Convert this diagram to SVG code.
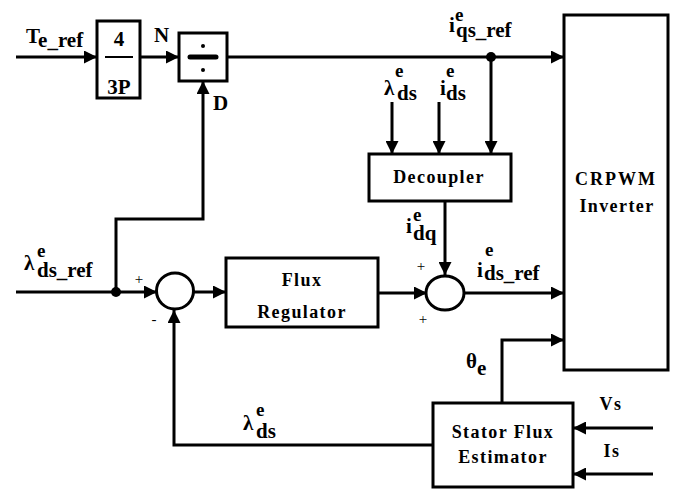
<svg xmlns="http://www.w3.org/2000/svg" width="678" height="489" viewBox="0 0 678 489">
<style>
  .blk { fill: #fff; stroke: #000; stroke-width: 3; }
  .ln { fill: none; stroke: #000; stroke-width: 3; }
  text { font-family: "Liberation Serif", "Times New Roman", serif; font-weight: bold; fill: #000; }
  .lbl { font-size: 21px; }
  .sub { font-size: 21px; }
  .sup { font-size: 19px; }
  .box { font-size: 18px; letter-spacing: 1.4px; text-anchor: middle; }
  .sg { font-size: 15px; font-weight: normal; text-anchor: middle; }
</style>
<defs>
  <marker id="ah" viewBox="0 0 12 12" refX="12" refY="6" markerWidth="13" markerHeight="13" markerUnits="userSpaceOnUse" orient="auto">
    <path d="M0,0 L12,6 L0,12 z" fill="#000"/>
  </marker>
</defs>
<rect width="678" height="489" fill="#fff"/>

<g id="connectors">
  <path class="ln" d="M16,57 H97" marker-end="url(#ah)"/>
  <path class="ln" d="M140,57 H179" marker-end="url(#ah)"/>
  <path class="ln" d="M227,57 H564" marker-end="url(#ah)"/>
  <circle cx="491" cy="57" r="5" fill="#000"/>
  <path class="ln" d="M491,57 V154" marker-end="url(#ah)"/>
  <path class="ln" d="M392,102 V154" marker-end="url(#ah)"/>
  <path class="ln" d="M439,102 V154" marker-end="url(#ah)"/>
  <path class="ln" d="M445,201 V275" marker-end="url(#ah)"/>
  <path class="ln" d="M16,292 H157" marker-end="url(#ah)"/>
  <circle cx="116" cy="292" r="5" fill="#000"/>
  <path class="ln" d="M116,292 V219 H203 V81" marker-end="url(#ah)"/>
  <path class="ln" d="M193,292 H226" marker-end="url(#ah)"/>
  <path class="ln" d="M378,293 H427" marker-end="url(#ah)"/>
  <path class="ln" d="M463,293 H564" marker-end="url(#ah)"/>
  <path class="ln" d="M433,445 H174 V310" marker-end="url(#ah)"/>
  <path class="ln" d="M502,403 V340 H564" marker-end="url(#ah)"/>
  <path class="ln" d="M653,428 H573" marker-end="url(#ah)"/>
  <path class="ln" d="M653,474 H573" marker-end="url(#ah)"/>
</g>

<g id="gain">
  <rect class="blk" x="97" y="21" width="43" height="77"/>
  <text x="119" y="46" font-size="21" text-anchor="middle">4</text>
  <line x1="105" y1="57" x2="133" y2="57" stroke="#000" stroke-width="2"/>
  <text x="119" y="94" font-size="21" text-anchor="middle">3P</text>
</g>

<g id="divider">
  <rect class="blk" x="179" y="33" width="48" height="48"/>
  <circle cx="203" cy="46" r="2" fill="#000"/>
  <line x1="190" y1="57" x2="216" y2="57" stroke="#000" stroke-width="5" stroke-linecap="round"/>
  <circle cx="203" cy="70" r="2" fill="#000"/>
</g>

<g id="sum1">
  <ellipse class="blk" cx="175" cy="291" rx="18.5" ry="18"/>
</g>

<g id="flux-regulator">
  <rect class="blk" x="226" y="258" width="152" height="69"/>
  <text class="box" x="302" y="286">Flux</text>
  <text class="box" x="302" y="318">Regulator</text>
</g>

<g id="decoupler">
  <rect class="blk" x="369" y="154" width="142" height="47"/>
  <text class="box" x="439" y="183">Decoupler</text>
</g>

<g id="sum2">
  <ellipse class="blk" cx="445" cy="293" rx="19" ry="17"/>
</g>

<g id="inverter">
  <rect class="blk" x="564" y="15" width="104" height="355"/>
  <text class="box" x="616" y="185" style="letter-spacing:2px">CRPWM</text>
  <text class="box" x="617" y="212">Inverter</text>
</g>

<g id="stator-flux-estimator">
  <rect class="blk" x="433" y="403" width="140" height="84"/>
  <text class="box" x="503" y="438">Stator Flux</text>
  <text class="box" x="503" y="463">Estimator</text>
</g>

<g id="labels">
  <text class="lbl" x="26" y="43">T<tspan class="sub" dy="4">e_ref</tspan></text>
  <text class="lbl" x="154" y="42">N</text>
  <text class="lbl" x="213" y="110">D</text>
  <text class="lbl" x="449" y="32">i</text><text class="sup" x="455" y="21">e</text><text class="sub" x="456" y="37">qs_ref</text>
  <text class="lbl" x="384" y="95" font-size="22">λ</text><text class="sup" x="395" y="77">e</text><text class="sub" x="397" y="100">ds</text>
  <text class="lbl" x="440" y="95">i</text><text class="sup" x="446" y="77">e</text><text class="sub" x="446" y="100">ds</text>
  <text class="lbl" x="406" y="233">i</text><text class="sup" x="413" y="221">e</text><text class="sub" x="413" y="240">dq</text>
  <text class="lbl" x="477" y="277">i</text><text class="sup" x="485" y="256">e</text><text class="sub" x="484" y="280">ds_ref</text>
  <text class="lbl" x="24" y="270" font-size="22">λ</text><text class="sup" x="37" y="257">e</text><text class="sub" x="37" y="277">ds_ref</text>
  <text class="lbl" x="243" y="430" font-size="22">λ</text><text class="sup" x="256" y="416">e</text><text class="sub" x="256" y="438">ds</text>
  <text class="lbl" x="466" y="368">θ<tspan class="sub" dy="7">e</tspan></text>
  <text class="box" x="611" y="410">Vs</text>
  <text class="box" x="612" y="457">Is</text>
  <text class="sg" x="139" y="284">+</text>
  <text class="sg" x="154" y="324">-</text>
  <text class="sg" x="421" y="271">+</text>
  <text class="sg" x="423" y="324">+</text>
</g>
</svg>
